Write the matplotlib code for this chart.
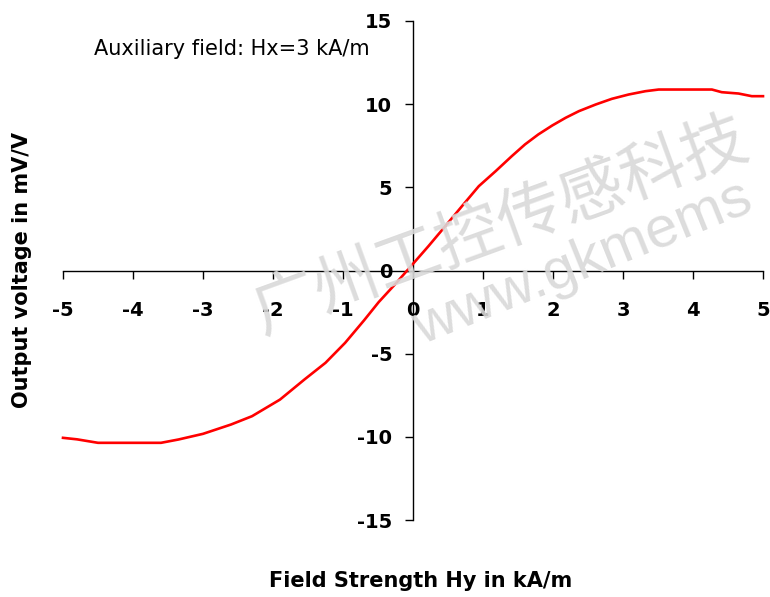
import matplotlib
matplotlib.use("Agg")
import matplotlib.pyplot as plt

# ---- data ----
hy = [-5.0, -4.8, -4.5, -3.6, -3.35, -3.0, -2.6, -2.3, -1.9, -1.55, -1.25, -0.97,
      -0.7, -0.49, -0.25, 0.0, 0.22, 0.46, 0.70, 0.94, 1.18, 1.41, 1.60, 1.79,
      1.99, 2.18, 2.37, 2.61, 2.84, 3.08, 3.32, 3.51, 4.27, 4.41, 4.65, 4.84, 5.0]
volt = [-10.06, -10.15, -10.36, -10.36, -10.16, -9.82, -9.26, -8.76, -7.76, -6.55,
        -5.55, -4.35, -3.0, -1.9, -0.8, 0.4, 1.46, 2.66, 3.87, 5.07, 5.97, 6.87,
        7.58, 8.18, 8.72, 9.18, 9.58, 9.98, 10.32, 10.58, 10.78, 10.88, 10.88,
        10.72, 10.64, 10.48, 10.48]
xticks = [-5, -4, -3, -2, -1, 0, 1, 2, 3, 4, 5]
yticks = [-15, -10, -5, 0, 5, 10, 15]
annotation = "Auxiliary field: Hx=3 kA/m"
xlabel = "Field Strength Hy in kA/m"
ylabel = "Output voltage in mV/V"
wm_cn = "广州工控传感科技"
wm_en = "www.gkmems"

plt.rcParams['axes.unicode_minus'] = False
plt.rcParams['font.family'] = ['DejaVu Sans']

W, H = 770, 597
fig = plt.figure(figsize=(W / 100, H / 100), dpi=100)
ax = fig.add_axes([63 / W, (H - 520) / H, 700 / W, 499 / H])

ax.plot(hy, volt, color='#ff0000', lw=1.9, clip_on=False, zorder=3,
        solid_joinstyle='round')

ax.set_xlim(-5, 5)
ax.set_ylim(-15, 15)
ax.spines['left'].set_position(('data', 0))
ax.spines['bottom'].set_position(('data', 0))
ax.spines['top'].set_visible(False)
ax.spines['right'].set_visible(False)
for s in ('left', 'bottom'):
    ax.spines[s].set_linewidth(1.0)
    ax.spines[s].set_color('black')

ax.set_xticks(xticks)
ax.set_xticklabels([str(t) for t in xticks])
ax.set_yticks(yticks)
ax.set_yticklabels([str(t) for t in yticks])
ax.tick_params(axis='x', direction='out', length=6, width=1.0, pad=16,
               labelsize=14)
ax.tick_params(axis='y', direction='out', length=6, width=1.0, pad=9,
               labelsize=14)
for lab in ax.get_xticklabels() + ax.get_yticklabels():
    lab.set_fontweight('bold')

fig.text(421 / W, 10 / H, xlabel, ha='center', va='baseline',
         fontsize=15, fontweight='bold')
fig.text(22 / W, (H - 270) / H, ylabel, ha='center', va='center',
         rotation=90, fontsize=15, fontweight='bold')
fig.text(94 / W, (H - 55) / H, annotation, ha='left', va='baseline',
         fontsize=15)

# watermark
fig.text(255 / W, 282 / H, wm_cn, rotation=20, rotation_mode='anchor',
         ha='left', va='center', fontsize=47,
         family=['Noto Sans CJK SC', 'DejaVu Sans'],
         color='#d9d9d9', alpha=0.9, zorder=10)
fig.text(422 / W, 252 / H, wm_en, rotation=22, rotation_mode='anchor',
         ha='left', va='baseline', fontsize=42, family=['Liberation Sans'],
         color='#d9d9d9', alpha=0.9, zorder=10)

fig.savefig('out.png', dpi=100)
